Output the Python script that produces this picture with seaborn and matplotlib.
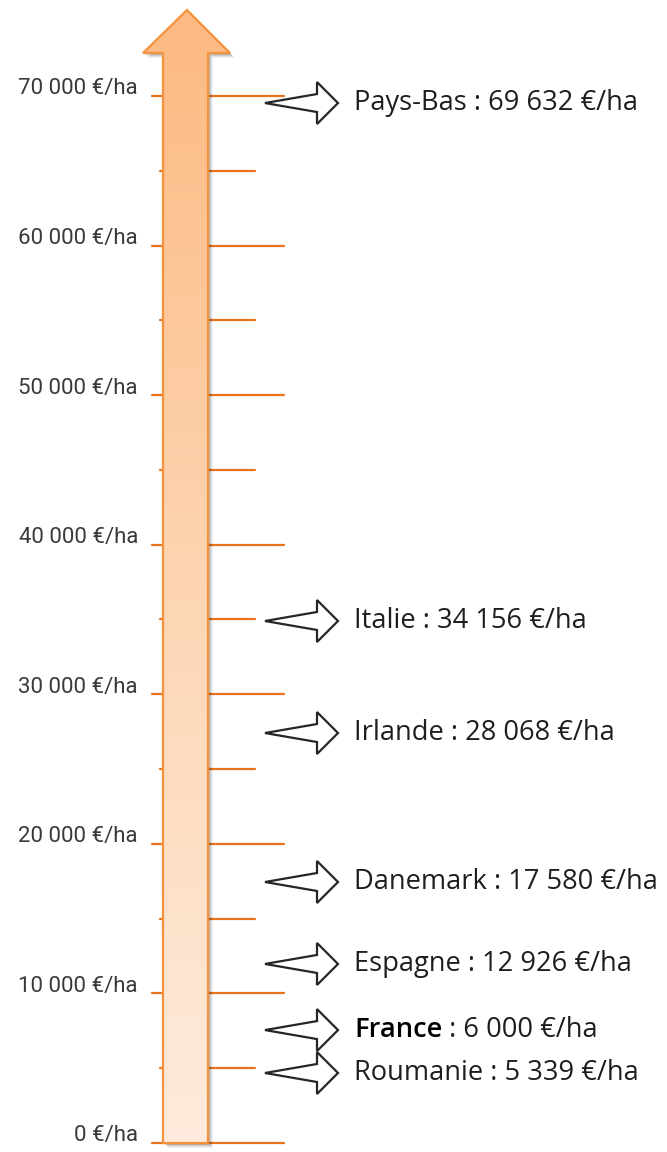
import numpy as np
import pandas as pd
import matplotlib
matplotlib.use("Agg")
import matplotlib.pyplot as plt
from matplotlib.patches import Polygon
from matplotlib.colors import LinearSegmentedColormap
import seaborn as sns

# ---------------- data ----------------
tick_values = [0, 10000, 20000, 30000, 40000, 50000, 60000, 70000]
tick_labels = ["0 €/ha", "10 000 €/ha", "20 000 €/ha", "30 000 €/ha",
               "40 000 €/ha", "50 000 €/ha", "60 000 €/ha", "70 000 €/ha"]
minor_values = [5000, 15000, 25000, 35000, 45000, 55000, 65000]

countries = ["Pays-Bas", "Italie", "Irlande", "Danemark", "Espagne", "France", "Roumanie"]
values = [69632, 34156, 28068, 17580, 12926, 6000, 5339]
value_texts = ["69 632", "34 156", "28 068", "17 580", "12 926", "6 000", "5 339"]
# vertical position of each call-out (€/ha scale)
label_pos = [69530, 34900, 27410, 17450, 11970, 7550, 4680]

# ---------------- layout ----------------
sns.set_theme(style="white")
plt.rcParams['font.family'] = ['Open Sans', 'DejaVu Sans']

W, H = 667, 1152
fig = plt.figure(figsize=(W / 100, H / 100), dpi=100)
ax = fig.add_axes([0, 0, 1, 1])

ZERO_PX = 1143          # pixel row of 0 €/ha
PX = 70000 / 1047       # €/ha per pixel
ax.set_xlim(0, W)
ax.set_ylim(-(H - ZERO_PX) * PX, ZERO_PX * PX)
ax.axis("off")


def v(py):
    """pixel row -> value on the €/ha scale"""
    return (ZERO_PX - py) * PX


TICK_COL = "#E8731C"

# ---------------- tick segments via seaborn ----------------
rows = []
for i, t in enumerate(tick_values):
    rows += [dict(uid=f"M{i}", x=152, y=t), dict(uid=f"M{i}", x=284, y=t)]
for i, t in enumerate(minor_values):
    rows += [dict(uid=f"m{i}", x=160, y=t), dict(uid=f"m{i}", x=255, y=t)]
ticks_df = pd.DataFrame(rows)
sns.lineplot(data=ticks_df, x="x", y="y", units="uid", estimator=None,
             color=TICK_COL, linewidth=1.6, sort=False, ax=ax, legend=False,
             zorder=1)

# ---------------- big gradient arrow ----------------
arrow_px = [(163, 1143), (163, 53), (143, 53), (187, 10), (230, 53), (208, 53), (208, 1143)]
arrow_xy = [(x, v(y)) for x, y in arrow_px]

# soft shadow
for off, a in [(5, 0.05), (4, 0.07), (3, 0.09), (2, 0.10)]:
    sh = Polygon([(x + off, y - off * PX) for x, y in arrow_xy], closed=True,
                 facecolor="#000000", edgecolor="none", alpha=a, zorder=2)
    ax.add_patch(sh)

clip = Polygon(arrow_xy, closed=True, facecolor="none", edgecolor="none", zorder=3)
ax.add_patch(clip)
cmap = LinearSegmentedColormap.from_list("g", ["#FEEBDD", "#FDD5B2", "#FCB981"])
grad = np.linspace(0, 1, 512).reshape(-1, 1)
im = ax.imshow(grad, extent=[140, 233, v(1146), v(8)], origin="lower",
               aspect="auto", cmap=cmap, zorder=3, interpolation="bilinear")
im.set_clip_path(clip)
ax.add_patch(Polygon(arrow_xy, closed=True, fill=False, edgecolor="#F4923E",
                     linewidth=1.6, joinstyle="miter", zorder=4))

# ---------------- tick labels ----------------
for t, lab in zip(tick_values, tick_labels):
    ax.text(138, t + 7 * PX, lab, ha="right", va="center", fontsize=16,
            family=["Roboto", "DejaVu Sans"], color="#3a3a3a", zorder=5)

# ---------------- call-out arrows and labels ----------------
TXT_COL = "#1e1e1e"
FS = 19.6
for name, txt, yc in zip(countries, value_texts, label_pos):
    shape = [(265, 0), (317, 9), (317, 21), (338, 0), (317, -21), (317, -9)]
    poly = [(x, yc + dy * PX) for x, dy in shape]
    ax.add_patch(Polygon(poly, closed=True, facecolor="white", edgecolor="#262626",
                         linewidth=1.6, joinstyle="miter", zorder=5))
    if name == "France":
        t1 = ax.text(354, yc, name, ha="left", va="center", fontsize=FS,
                     fontweight="semibold", color="#000000", zorder=6)
        ax.annotate(f" : {txt} €/ha", xy=(1, 0), xycoords=t1, ha="left", va="bottom",
                    fontsize=FS, fontweight="normal", color=TXT_COL, zorder=6)
    else:
        ax.text(354, yc, f"{name} : {txt} €/ha", ha="left", va="center", fontsize=FS,
                fontweight="normal", color=TXT_COL, zorder=6)

fig.savefig("out.png", dpi=100)
